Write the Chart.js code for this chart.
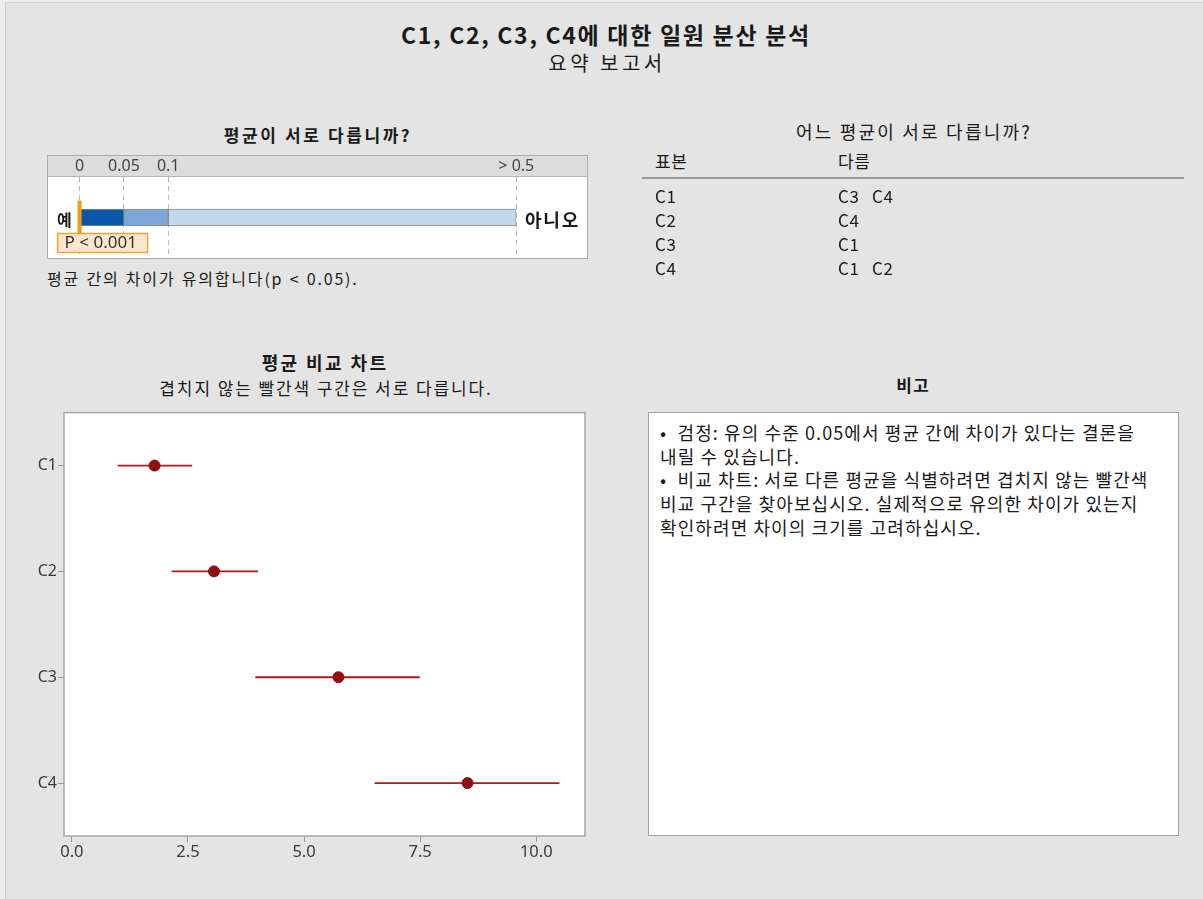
<!DOCTYPE html>
<html>
<head>
<meta charset="utf-8">
<script src="https://cdn.jsdelivr.net/npm/chart.js@4.4.0/dist/chart.umd.min.js"></script>
<style>
body { margin:0; background:#ececec; font-family:"Noto Sans CJK KR","Noto Sans",sans-serif; color:#1a1a1a; }
#page { position:absolute; left:5px; top:2px; width:1198px; height:897px; background:#e4e4e4; border-left:1px solid #cdcdcd; border-top:1px solid #d4d4d4; }
.t { position:absolute; white-space:nowrap; line-height:1; }
.c { transform:translate(-50%,-50%); }
.l { transform:translate(0,-50%); }
.b { font-weight:bold; }
#pbox { position:absolute; left:47px; top:155px; width:539px; height:102px; border:1px solid #ababab; }
#pbox canvas { display:block; }
#rule { position:absolute; left:642px; top:177px; width:542px; height:0; border-top:2px solid #9a9a9a; }
#notes { position:absolute; left:648px; top:412px; width:529px; height:422px; border:1px solid #a0a0a0; background:#fff; }
#notes div { position:absolute; left:11px; white-space:pre; line-height:1; transform:translate(0,-50%); font-size:18px; letter-spacing:1.1px; }
#mainCanvas { position:absolute; left:10px; top:402px; }
</style>
</head>
<body>
<div id="page"></div>

<div class="t c b" style="left:606px;top:34px;font-size:23px;letter-spacing:1.7px;">C1, C2, C3, C4에 대한 일원 분산 분석</div>
<div class="t c" style="left:607px;top:63px;font-size:20px;letter-spacing:3.5px;">요약 보고서</div>

<div class="t c b" style="left:318px;top:134px;font-size:17px;letter-spacing:2.6px;">평균이 서로 다릅니까?</div>
<div id="pbox"><canvas id="pCanvas" width="539" height="102"></canvas></div>
<div class="t l b" style="left:57px;top:219px;font-size:16px;">예</div>
<div class="t l b" style="left:525px;top:219px;font-size:18px;letter-spacing:1.8px;">아니오</div>
<div class="t l" style="left:47px;top:278px;font-size:16px;letter-spacing:1.8px;word-spacing:1px;">평균 간의 차이가 유의합니다(p &lt; 0.05).</div>

<div class="t c" style="left:914px;top:131px;font-size:18px;letter-spacing:2.2px;">어느 평균이 서로 다릅니까?</div>
<div id="table"></div>
<div id="rule"></div>

<div class="t c b" style="left:325px;top:362px;font-size:18px;letter-spacing:2.4px;">평균 비교 차트</div>
<div class="t c" style="left:326px;top:387px;font-size:17px;letter-spacing:1.9px;">겹치지 않는 빨간색 구간은 서로 다릅니다.</div>
<canvas id="mainCanvas" width="590" height="470"></canvas>

<div class="t c b" style="left:913px;top:384px;font-size:17px;letter-spacing:1px;">비고</div>
<div id="notes"></div>

<script>
// interval plot data
var groups = ['C1', 'C2', 'C3', 'C4'];
var means  = [1.78, 3.06, 5.74, 8.52];
var lower  = [0.99, 2.15, 3.95, 6.52];
var upper  = [2.59, 4.01, 7.49, 10.50];
var xTicks = [0, 2.5, 5, 7.5, 10];

// p-value bar
var pBreaks = [0, 0.05, 0.1, 0.5];
var pTickLabels = ['0', '0.05', '0.1', '> 0.5'];
var pColors = ['#0a56a8', '#7ba6d8', '#c2d6ee'];
var pValue = 0.001;
var pLabel = 'P < 0.001';

// which means differ
var tableHead = ['표본', '다름'];
var diffWith = [['C3', 'C4'], ['C4'], ['C1'], ['C1', 'C2']];

var notes = [
  '•  검정: 유의 수준 0.05에서 평균 간에 차이가 있다는 결론을',
  '내릴 수 있습니다.',
  '•  비교 차트: 서로 다른 평균을 식별하려면 겹치지 않는 빨간색',
  '비교 구간을 찾아보십시오. 실제적으로 유의한 차이가 있는지',
  '확인하려면 차이의 크기를 고려하십시오.'
];

// ---- text blocks
function addText(parent, txt, left, top, size) {
  var d = document.createElement('div');
  d.className = 't l';
  d.style.left = left + 'px';
  d.style.top = top + 'px';
  d.style.fontSize = size + 'px';
  d.style.letterSpacing = '0.6px';
  d.textContent = txt;
  parent.appendChild(d);
}
var tbl = document.getElementById('table');
addText(tbl, tableHead[0], 655, 160, 17);
addText(tbl, tableHead[1], 838, 160, 17);
for (var i = 0; i < groups.length; i++) {
  var y = 195 + i * 24;
  addText(tbl, groups[i], 655, y, 17);
  for (var j = 0; j < diffWith[i].length; j++) {
    addText(tbl, diffWith[i][j], 838 + j * 34, y, 17);
  }
}
var nb = document.getElementById('notes');
for (var k = 0; k < notes.length; k++) {
  var nd = document.createElement('div');
  nd.style.top = (19 + k * 23.7) + 'px';
  nd.textContent = notes[k];
  nb.appendChild(nd);
}

// ---- p-value chart; Minitab squeezes 0.1..0.5 on the axis
function pPos(p) {
  return p <= 0.1 ? p / 0.05 : 2 + (p - 0.1) / 0.4 * 7.86;
}

var pPlugin = {
  id: 'pStrip',
  beforeDraw: function(chart) {
    var ctx = chart.ctx, a = chart.chartArea;
    ctx.save();
    ctx.fillStyle = '#dcdcdc';
    ctx.fillRect(0, 0, chart.width, a.top);
    ctx.fillStyle = '#ffffff';
    ctx.fillRect(0, a.top, chart.width, chart.height - a.top);
    ctx.fillStyle = '#b4b4b4';
    ctx.fillRect(0, a.top - 1, chart.width, 1);
    ctx.restore();
  },
  afterDatasetsDraw: function(chart) {
    var ctx = chart.ctx;
    var xs = chart.scales.x, ys = chart.scales.y;
    var mx = xs.getPixelForValue(pPos(pValue)) - 1;
    var my = ys.getPixelForValue(0);
    ctx.save();
    ctx.fillStyle = '#f59a12';
    ctx.fillRect(mx - 2, my - 17, 4, 35);
    var bx = mx - 22, by = my + 16;
    ctx.fillStyle = '#fbe7cb';
    ctx.fillRect(bx, by, 90, 19);
    ctx.strokeStyle = '#f3a23a';
    ctx.lineWidth = 1.5;
    ctx.strokeRect(bx, by, 90, 19);
    ctx.fillStyle = '#333';
    ctx.font = '17px "Noto Sans", sans-serif';
    ctx.textBaseline = 'middle';
    ctx.fillText(pLabel, bx + 7, by + 10);
    ctx.restore();
  }
};

var pSets = [];
for (var s = 0; s < pColors.length; s++) {
  pSets.push({
    data: [[pPos(pBreaks[s]), pPos(pBreaks[s + 1])]],
    backgroundColor: pColors[s],
    borderColor: '#8c8c8c',
    borderWidth: 1,
    borderSkipped: false,
    barThickness: 17,
    grouped: false
  });
}

new Chart(document.getElementById('pCanvas'), {
  type: 'bar',
  data: { labels: [''], datasets: pSets },
  options: {
    indexAxis: 'y',
    responsive: false,
    animation: false,
    layout: { padding: { left: 31.7, right: 70.7, top: 0, bottom: -4 } },
    plugins: { legend: { display: false }, tooltip: { enabled: false } },
    scales: {
      x: {
        position: 'top',
        min: 0,
        max: pPos(0.5),
        afterBuildTicks: function(scale) {
          scale.ticks = pBreaks.map(function(p) { return { value: pPos(p) }; });
        },
        afterFit: function(scale) { scale.height = 21; },
        ticks: {
          padding: 1,
          color: '#444',
          font: { size: 16, family: '"Noto Sans", sans-serif' },
          callback: function(v, idx) { return pTickLabels[idx]; }
        },
        grid: { drawTicks: false, color: '#b8b8b8', lineWidth: 1 },
        border: { display: false, dash: [5, 4] }
      },
      y: { display: false }
    }
  },
  plugins: [pPlugin]
});

// ---- interval plot
var boxPlugin = {
  id: 'plotBox',
  beforeDraw: function(chart) {
    var a = chart.chartArea, ctx = chart.ctx;
    ctx.save();
    ctx.fillStyle = '#ffffff';
    ctx.fillRect(a.left, a.top, a.right - a.left, a.bottom - a.top);
    ctx.restore();
  },
  afterDraw: function(chart) {
    var a = chart.chartArea, ctx = chart.ctx;
    ctx.save();
    ctx.strokeStyle = '#a6a6a6';
    ctx.lineWidth = 1.5;
    ctx.strokeRect(a.left, a.top, a.right - a.left, a.bottom - a.top);
    ctx.restore();
  }
};

var sets = [{
  label: 'mean',
  data: means.map(function(m, i) { return { x: m, y: i + 1 }; }),
  pointRadius: 5.5,
  pointBackgroundColor: '#8e0f0f',
  pointBorderColor: '#8e0f0f',
  showLine: false,
  order: 0
}];
for (var g = 0; g < groups.length; g++) {
  sets.push({
    label: groups[g],
    data: [{ x: lower[g], y: g + 1 }, { x: upper[g], y: g + 1 }],
    showLine: true,
    borderColor: '#b0191b',
    borderWidth: 1.8,
    pointRadius: 0,
    order: 1
  });
}

new Chart(document.getElementById('mainCanvas'), {
  type: 'scatter',
  data: { datasets: sets },
  options: {
    responsive: false,
    animation: false,
    layout: { padding: { left: 0, top: 10, right: 15, bottom: 8 } },
    plugins: { legend: { display: false }, tooltip: { enabled: false } },
    scales: {
      x: {
        min: -0.17,
        max: 11.05,
        afterFit: function(scale) { scale.height = 28; },
        afterBuildTicks: function(scale) {
          scale.ticks = xTicks.map(function(v) { return { value: v }; });
        },
        ticks: {
          padding: 0,
          color: '#3a3a3a',
          font: { size: 16.5, family: '"Noto Sans", sans-serif' },
          callback: function(v) { return Number(v).toFixed(1); }
        },
        grid: { drawOnChartArea: false, drawTicks: true, tickLength: 6, color: '#999' },
        border: { display: false }
      },
      y: {
        reverse: true,
        min: 0.5,
        max: 4.5,
        afterFit: function(scale) { scale.width = 54; },
        afterBuildTicks: function(scale) {
          scale.ticks = groups.map(function(c, i) { return { value: i + 1 }; });
        },
        ticks: {
          padding: 1,
          color: '#3a3a3a',
          font: { size: 16, family: '"Noto Sans", sans-serif' },
          callback: function(v) { return groups[v - 1]; }
        },
        grid: { drawOnChartArea: false, drawTicks: true, tickLength: 6, color: '#999' },
        border: { display: false }
      }
    }
  },
  plugins: [boxPlugin]
});
</script>
</body>
</html>
